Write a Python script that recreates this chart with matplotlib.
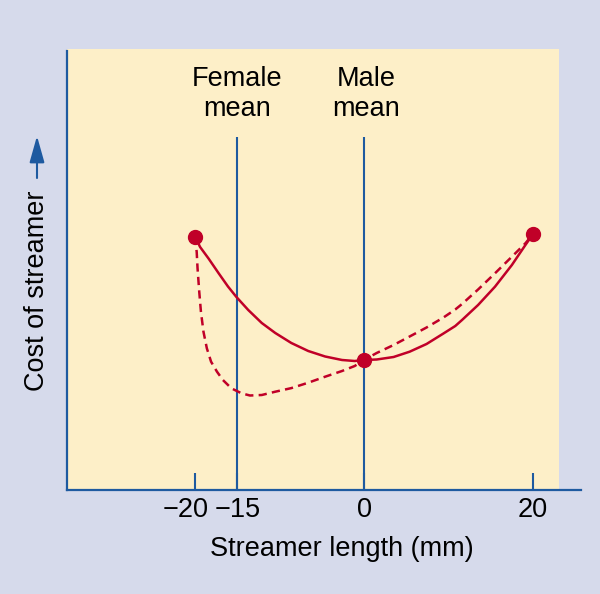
import matplotlib
matplotlib.use("Agg")
import matplotlib.pyplot as plt
from matplotlib.transforms import ScaledTranslation

# ---- data (streamer length in mm, cost in arbitrary units) ----
solid_x = [-20, -19.4, -18.4, -17.2, -16.1, -15.1, -13.7, -12.1, -10.5, -8.6, -6.6, -4.6, -2.6,
           -1.1, 0, 1.5, 3.5, 5.4, 7.4, 9.4, 10.8, 11.6, 13.5, 15.5, 17.5, 19.1, 20]
solid_y = [253.5, 243, 231.5, 216.7, 203.5, 193, 180, 167, 157, 147, 139, 133.5, 130,
           129, 130, 130.5, 133, 138.3, 146, 156.5, 164, 170, 185, 203.3, 225, 245, 256]

dashed_x = [-20, -19.8, -19.7, -19.5, -19.3, -19.0, -18.6, -18.1, -17.4, -16.7, -15.7, -14.5,
            -13.5, -12.1, -10.5, -8.6, -6.6, -4.6, -2.6, -1.1, 0, 1.5, 3.5, 5.4, 7.4, 9.4,
            10.8, 11.6, 13.5, 15.5, 17.5, 19.1, 20]
dashed_y = [253.5, 238, 221.7, 198.3, 178.3, 158.3, 141.7, 128.3, 118.3, 110, 101.7, 96.7,
            94.5, 95, 98.3, 101.9, 107.3, 113.3, 119, 124, 130, 137, 145, 153.5, 162.5, 172.5,
            180.5, 186, 200.5, 216.7, 233.3, 246.7, 256]

point_x = [-20, 0, 20]
point_y = [253.5, 130, 256]

female_mean = -15
male_mean = 0
mean_labels = ["Female\nmean", "Male\nmean"]
mean_line_top = 353

xticks = [-20, -15, 0, 20]
xtick_labels = ["\u221220", "\u221215", "0", "20"]

# ---- style ----
BG = "#d6daeb"
CREAM = "#fdefc8"
RED = "#c00028"
BLUE = "#1e5aa0"
FS = 19.5
plt.rcParams["font.family"] = ["Liberation Sans", "DejaVu Sans"]

W, H = 600, 594
fig = plt.figure(figsize=(6, 5.94), dpi=100, facecolor=BG)
ax = fig.add_axes([67 / W, 1 - 490 / H, (581 - 67) / W, (490 - 49) / H])
ax.set_facecolor(BG)
ax.set_xlim(-35.15, 25.68)
ax.set_ylim(0, 441)
ax.axvspan(-35.15, 23.08, color=CREAM, zorder=0, lw=0)

for s in ["top", "right"]:
    ax.spines[s].set_visible(False)
for s in ["left", "bottom"]:
    ax.spines[s].set_color(BLUE)
    ax.spines[s].set_linewidth(1.6)
ax.spines["left"].set_bounds(0, 439)

ax.set_yticks([])
ax.set_xticks(xticks)
ax.set_xticklabels(xtick_labels, fontsize=FS)
ax.tick_params(axis="x", direction="in", length=12.2, width=1.5, color=BLUE, pad=5)
# nudge the -20 label slightly left
lbl = ax.get_xticklabels()[0]
lbl.set_transform(lbl.get_transform() + ScaledTranslation(-9 / 100, 0, fig.dpi_scale_trans))

# mean lines
ax.vlines([female_mean, male_mean], 0, mean_line_top, color=BLUE, lw=1.5, zorder=2)
ax.text(female_mean, 396, mean_labels[0], ha="center", va="center", fontsize=FS, linespacing=1.2)
ax.text(male_mean + 0.3, 396, mean_labels[1], ha="center", va="center", fontsize=FS, linespacing=1.2)

# curves
ax.plot(solid_x, solid_y, color=RED, lw=1.8, zorder=3, solid_joinstyle="round")
ax.plot(dashed_x, dashed_y, color=RED, lw=1.8, ls=(0, (3.3, 2.1)), zorder=3)
ax.plot(point_x, point_y, "o", color=RED, ms=10, zorder=4)

ax.set_xlabel("Streamer length (mm)", fontsize=FS)
ax.xaxis.set_label_coords((342 - 67) / 514, -46 / 441)

# y label with arrow
fig.text(37 / W, 1 - 291 / H, "Cost of streamer", rotation=90, ha="center", va="center", fontsize=FS)
ax.annotate("", xy=(37 / W, 1 - 136 / H), xytext=(37 / W, 1 - 178 / H),
            xycoords="figure fraction", textcoords="figure fraction",
            arrowprops=dict(arrowstyle="-|>,head_length=1.35,head_width=0.38", mutation_scale=12,
                            color=BLUE, lw=1.5, shrinkA=0, shrinkB=0))

fig.savefig("out.png", dpi=100, facecolor=BG)
